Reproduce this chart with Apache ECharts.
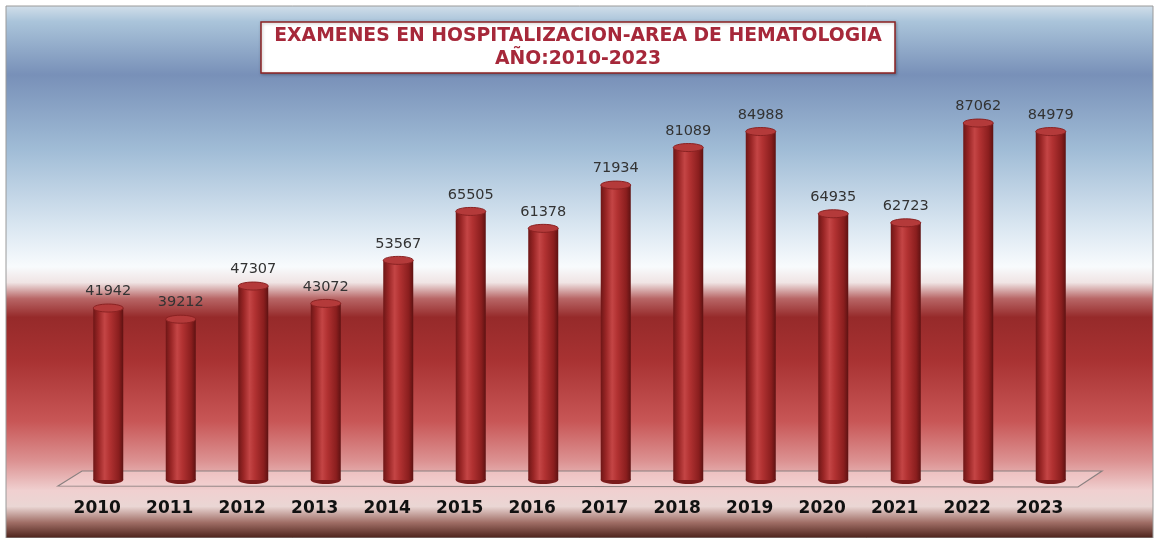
<!DOCTYPE html>
<html>
<head>
<meta charset="utf-8">
<script src="https://cdn.jsdelivr.net/npm/echarts@6/dist/echarts.min.js"></script>
<style>
html,body{margin:0;padding:0;background:#fff;}
#chart{width:1156px;height:538px;}
</style>
</head>
<body>
<div id="chart"></div>
<script>
const years = ['2010','2011','2012','2013','2014','2015','2016','2017','2018','2019','2020','2021','2022','2023'];
const examenes = [41942,39212,47307,43072,53567,65505,61378,71934,81089,84988,64935,62723,87062,84979];
const titleLines = ['EXAMENES EN HOSPITALIZACION-AREA DE HEMATOLOGIA','AÑO:2010-2023'];

const chart = echarts.init(document.getElementById('chart'));

const bodyGrad = new echarts.graphic.LinearGradient(0,0,1,0,[
  {offset:0,color:'#6e1616'},
  {offset:0.18,color:'#9a2626'},
  {offset:0.38,color:'#c44545'},
  {offset:0.55,color:'#b23232'},
  {offset:0.85,color:'#8a1e1e'},
  {offset:1,color:'#5e1212'}
]);

function renderCylinder(params, api){
  const top = api.coord([api.value(0), api.value(1)]);
  const base = api.coord([api.value(0), 0]);
  const w = 30, ry = 4;
  const x = top[0] - w/2;
  return {
    type:'group',
    children:[
      {type:'ellipse', shape:{cx:top[0], cy:base[1], rx:w/2, ry:ry}, style:{fill:'#7a1a1a'}},
      {type:'rect', shape:{x:x, y:top[1], width:w, height:base[1]-top[1]}, style:{fill:bodyGrad}},
      {type:'ellipse', shape:{cx:top[0], cy:top[1], rx:w/2, ry:ry}, style:{fill:'#b43a3a', stroke:'#8a2222', lineWidth:1}}
    ]
  };
}

chart.setOption({
  animation:false,
  title:{
    text: titleLines.join('\n'),
    left:'center',
    top:22,
    padding:[3,14,2,14],
    backgroundColor:'#ffffff',
    borderColor:'#8c2222',
    borderWidth:1.5,
    shadowColor:'rgba(0,0,0,0.25)',
    shadowBlur:3,
    shadowOffsetX:1,
    shadowOffsetY:1,
    textStyle:{
      color:'#a6283a',
      fontFamily:'DejaVu Sans',
      fontWeight:'bold',
      fontSize:18.8,
      lineHeight:23,
      align:'center'
    }
  },
  graphic:[
    {
      type:'rect', z:-10, silent:true,
      shape:{x:6, y:6, width:1147, height:532},
      style:{
        stroke:'#9a9a9a', lineWidth:1,
        fill:new echarts.graphic.LinearGradient(0,0,0,1,[
          {offset:0,color:'#d2dfea'},
          {offset:0.03,color:'#aac4da'},
          {offset:0.13,color:'#7890b8'},
          {offset:0.27,color:'#a0bcd6'},
          {offset:0.42,color:'#dce8f2'},
          {offset:0.49,color:'#f8fbfd'},
          {offset:0.52,color:'#f0e4e4'},
          {offset:0.55,color:'#b86666'},
          {offset:0.585,color:'#962a2a'},
          {offset:0.665,color:'#a83232'},
          {offset:0.78,color:'#c85656'},
          {offset:0.855,color:'#dc9292'},
          {offset:0.91,color:'#f0d0d0'},
          {offset:0.94,color:'#ead6d4'},
          {offset:0.97,color:'#a06e66'},
          {offset:1,color:'#4a2018'}
        ])
      }
    },
    {
      type:'polygon', z:-5, silent:true,
      shape:{points:[[58,486],[82,471],[1102,471],[1078,487]]},
      style:{fill:'rgba(245,215,215,0.55)', stroke:'#8a8080', lineWidth:1.2}
    }
  ],
  grid:{left:72, right:69, top:70, bottom:58},
  xAxis:{
    type:'category',
    data:years,
    axisLine:{show:false},
    axisTick:{show:false},
    axisLabel:{
      margin:20,
      padding:[0,22,0,0],
      color:'#111',
      fontFamily:'DejaVu Sans',
      fontWeight:'bold',
      fontSize:17
    }
  },
  yAxis:{
    type:'value', min:0, max:100000, show:false,
    splitLine:{show:false}
  },
  series:[{
    type:'custom',
    data:examenes.map((v,i)=>[i,v]),
    encode:{x:0,y:1},
    renderItem:renderCylinder,
    z:3
  },{
    type:'bar',
    data:examenes,
    barWidth:30,
    itemStyle:{color:'rgba(0,0,0,0)'},
    silent:true,
    z:2,
    label:{
      show:true,
      position:'top',
      distance:9,
      color:'#333',
      fontFamily:'DejaVu Sans',
      fontSize:14.5
    }
  }]
});
</script>
</body>
</html>
